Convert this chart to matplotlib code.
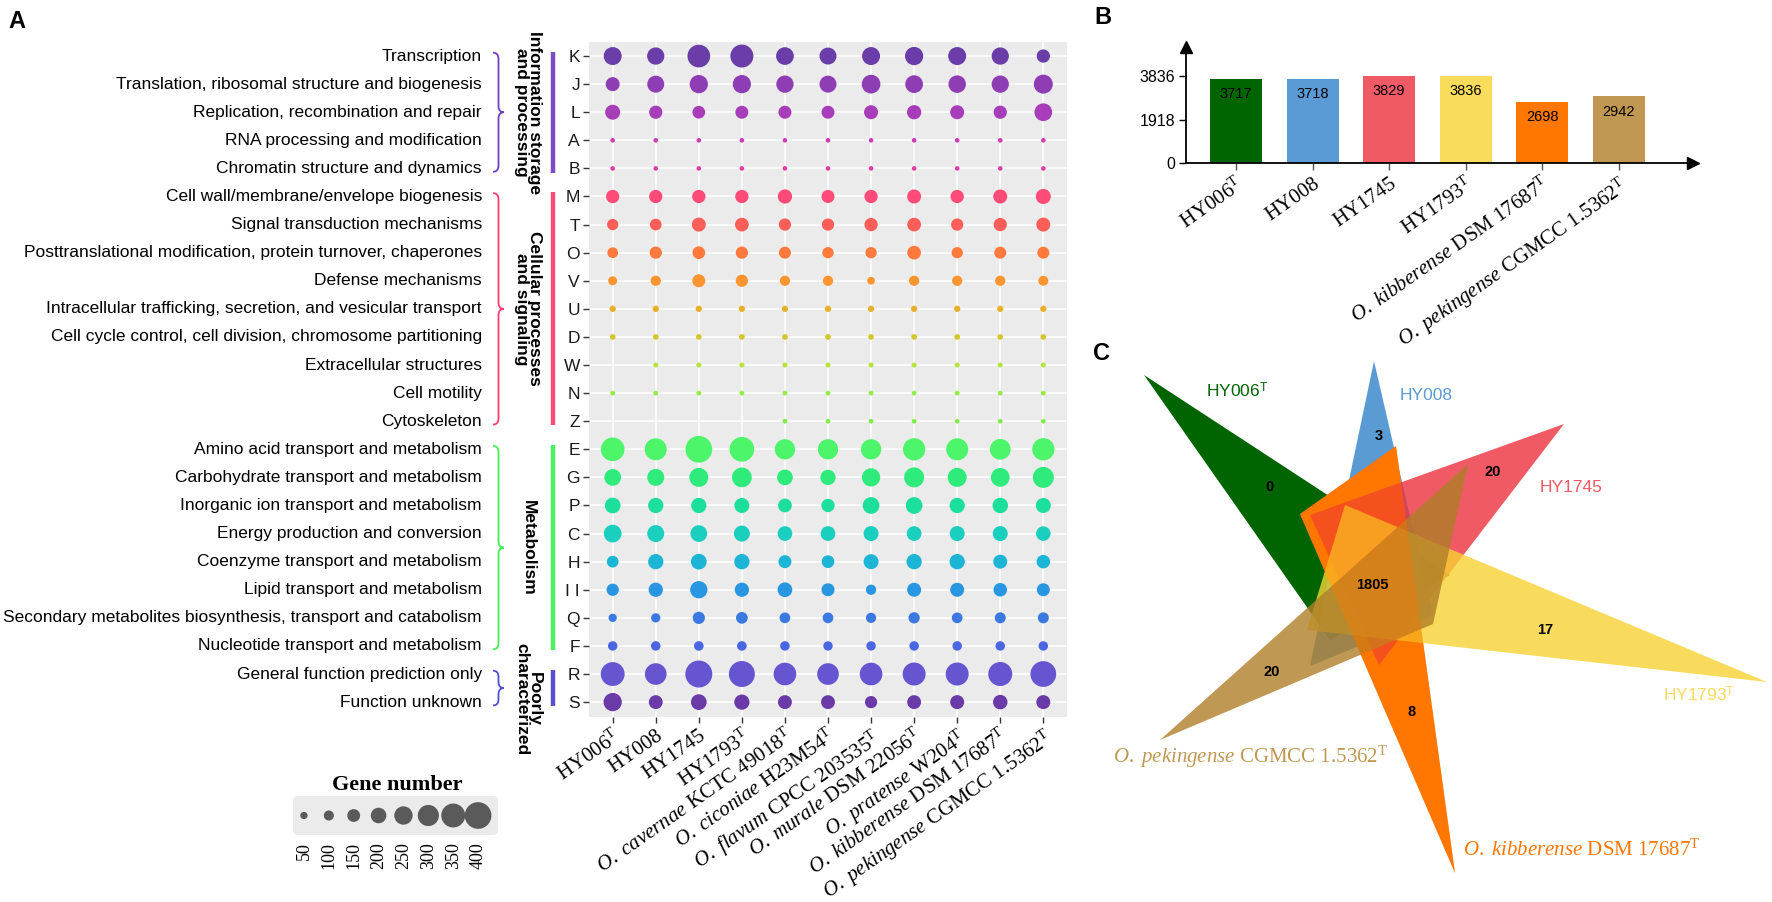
import numpy as np
import matplotlib
matplotlib.use("Agg")
import matplotlib.pyplot as plt
import matplotlib.transforms as mtransforms
from matplotlib.patches import Polygon, PathPatch, FancyBboxPatch
from matplotlib.path import Path

plt.rcParams['font.family'] = ['Liberation Sans', 'DejaVu Sans']
plt.rcParams['mathtext.fontset'] = 'custom'
plt.rcParams['mathtext.rm'] = 'Liberation Serif'
plt.rcParams['mathtext.it'] = 'Liberation Serif:italic'
plt.rcParams['mathtext.sf'] = 'Liberation Sans'

# ---------------- data ----------------
cog_codes = ['K', 'J', 'L', 'A', 'B', 'M', 'T', 'O', 'V', 'U', 'D', 'W', 'N', 'Z',
             'E', 'G', 'P', 'C', 'H', 'I', 'Q', 'F', 'R', 'S']
cog_ticks = [c if c != 'I' else 'I I' for c in cog_codes]
cog_names = ["Transcription",
             "Translation, ribosomal structure and biogenesis",
             "Replication, recombination and repair",
             "RNA processing and modification",
             "Chromatin structure and dynamics",
             "Cell wall/membrane/envelope biogenesis",
             "Signal transduction mechanisms",
             "Posttranslational modification, protein turnover, chaperones",
             "Defense mechanisms",
             "Intracellular trafficking, secretion, and vesicular transport",
             "Cell cycle control, cell division, chromosome partitioning",
             "Extracellular structures",
             "Cell motility",
             "Cytoskeleton",
             "Amino acid transport and metabolism",
             "Carbohydrate transport and metabolism",
             "Inorganic ion transport and metabolism",
             "Energy production and conversion",
             "Coenzyme transport and metabolism",
             "Lipid transport and metabolism",
             "Secondary metabolites biosynthesis, transport and catabolism",
             "Nucleotide transport and metabolism",
             "General function prediction only",
             "Function unknown"]
cog_colors = ['#6A3DA8', '#8E3DB4', '#A73DB8', '#D03BB8', '#E03AA6', '#FF4B78',
              '#FF5F58', '#FF7A3C', '#FF9530', '#E8B02A', '#D2C72C', '#B6E23C',
              '#92EE44', '#7DEE46', '#4DF56A', '#2EEB7C', '#1CDF9C', '#1BCFBF',
              '#1DB5D6', '#2996E1', '#3B79E0', '#4A66E2', '#6655D0', '#6A3AA8']

strain_labels = [r"HY006$^{\rm T}$", "HY008", "HY1745", r"HY1793$^{\rm T}$",
                 r"$\it{O.\ cavernae}$ KCTC 49018$^{\rm T}$",
                 r"$\it{O.\ ciconiae}$ H23M54$^{\rm T}$",
                 r"$\it{O.\ flavum}$ CPCC 203535$^{\rm T}$",
                 r"$\it{O.\ murale}$ DSM 22056$^{\rm T}$",
                 r"$\it{O.\ pratense}$ W204$^{\rm T}$",
                 r"$\it{O.\ kibberense}$ DSM 17687$^{\rm T}$",
                 r"$\it{O.\ pekingense}$ CGMCC 1.5362$^{\rm T}$"]

# gene number per COG category (rows) and strain (columns)
gene_counts = np.array([
    [243, 230, 328, 333, 238, 225, 243, 248, 243, 230, 158],  # K
    [171, 225, 248, 248, 230, 225, 256, 238, 234, 230, 261],  # J
    [189, 158, 148, 153, 153, 153, 171, 176, 171, 158, 238],  # L
    [2, 2, 2, 2, 2, 2, 2, 2, 2, 2, 2],                        # A
    [1, 1, 1, 1, 1, 1, 1, 1, 1, 1, 1],                        # B
    [158, 158, 158, 158, 176, 153, 158, 171, 158, 171, 189],  # M
    [122, 130, 171, 166, 140, 140, 158, 166, 140, 158, 171],  # T
    [112, 140, 148, 140, 135, 122, 122, 166, 122, 135, 135],  # O
    [81, 104, 153, 140, 104, 104, 58, 104, 104, 104, 99],     # V
    [33, 33, 32, 32, 31, 33, 32, 33, 32, 32, 32],             # U
    [22, 22, 21, 22, 22, 22, 21, 22, 22, 21, 22],             # D
    [0, 9, 9, 9, 9, 9, 9, 9, 9, 9, 9],                        # W
    [5, 5, 5, 5, 5, 5, 5, 5, 5, 5, 5],                        # N
    [0, 0, 0, 0, 3, 3, 3, 3, 3, 3, 3],                        # Z
    [345, 315, 400, 364, 284, 284, 284, 320, 315, 292, 320],  # E
    [220, 225, 261, 274, 202, 194, 248, 279, 261, 257, 297],  # G
    [202, 194, 194, 189, 166, 158, 220, 220, 194, 198, 189],  # P
    [238, 225, 220, 207, 184, 184, 189, 184, 189, 189, 180],  # C
    [130, 194, 202, 194, 153, 148, 189, 194, 194, 171, 162],  # H
    [140, 176, 230, 176, 184, 153, 104, 171, 171, 162, 153],  # I
    [68, 86, 140, 130, 112, 112, 104, 122, 112, 117, 117],    # Q
    [90, 90, 92, 92, 90, 88, 88, 90, 90, 90, 90],             # F
    [349, 309, 405, 387, 327, 309, 327, 333, 333, 351, 383],  # R
    [248, 169, 202, 193, 169, 169, 139, 169, 171, 180, 171],  # S
])

groups = [("Information storage\nand processing", 0, 4, '#7B4CC6', '#7040C0'),
          ("Cellular processes\nand signaling", 5, 13, '#FF4D7A', '#FF3D6E'),
          ("Metabolism", 14, 21, '#4CF064', '#44EE55'),
          ("Poorly\ncharacterized", 22, 23, '#5A50D2', '#5050D0')]

legend_values = [50, 100, 150, 200, 250, 300, 350, 400]

genome_labels = [r"HY006$^{\rm T}$", "HY008", "HY1745", r"HY1793$^{\rm T}$",
                 r"$\it{O.\ kibberense}$ DSM 17687$^{\rm T}$",
                 r"$\it{O.\ pekingense}$ CGMCC 1.5362$^{\rm T}$"]
genome_genes = [3717, 3718, 3829, 3836, 2698, 2942]
genome_colors = ['#006400', '#5B9BD5', '#F05A64', '#F9DC5C', '#FF7600', '#C09853']

venn_names = [r"HY006$^{\mathsf{T}}$", "HY008", "HY1745", r"HY1793$^{\mathsf{T}}$",
              r"$\it{O.\ kibberense}$ DSM 17687$^{\rm T}$",
              r"$\it{O.\ pekingense}$ CGMCC 1.5362$^{\rm T}$"]
venn_unique = [0, 3, 20, 17, 8, 20]
venn_core = 1805
venn_fill = ['#006400', '#3282CA', '#EC313D', '#F7D333', '#FF7600', '#B07E28']
venn_alpha = [1.0, 0.8, 0.8, 0.8, 1.0, 0.8]

# ---------------- layout ----------------
W, H = 1772, 902
fig = plt.figure(figsize=(W / 100, H / 100), dpi=100)


def box(x0, y0, x1, y1):
    return [x0 / W, 1 - y1 / H, (x1 - x0) / W, (y1 - y0) / H]


def dot_px(v):
    # dot diameter in pixels for a gene number
    return 4.5 + 0.0555 * np.asarray(v, dtype=float)


# ---------------- panel A: dot plot ----------------
ax = fig.add_axes(box(589, 42, 1067, 717))
ax.set_facecolor('#EBEBEB')
ax.set_xlim(-0.55, 10.55)
ax.set_ylim(23.53, -0.5)
ax.grid(color='white', lw=1.1)
ax.set_axisbelow(True)
for sp in ax.spines.values():
    sp.set_visible(False)

cols, rows = np.meshgrid(np.arange(len(strain_labels)), np.arange(len(cog_codes)))
mask = gene_counts > 0
ax.scatter(cols[mask], rows[mask], s=(dot_px(gene_counts[mask]) * 0.72) ** 2,
           c=np.array(cog_colors)[rows[mask]], linewidths=0, zorder=3)

ax.set_yticks(range(len(cog_codes)))
ax.set_yticklabels(cog_ticks, fontsize=12.5, color='#1a1a1a')
ax.set_xticks(range(len(strain_labels)))
ax.set_xticklabels(strain_labels, rotation=35, ha='right', rotation_mode='anchor',
                   fontsize=15, family='Liberation Serif')
ax.tick_params(axis='both', length=4.5, width=1, color='#333333', pad=2)

# overlay in pixel coordinates
ov = fig.add_axes([0, 0, 1, 1])
ov.set_xlim(0, W)
ov.set_ylim(H, 0)
ov.axis('off')
ov.set_facecolor('none')
rows_tr = mtransforms.blended_transform_factory(ov.transData, ax.transData)

for i, name in enumerate(cog_names):
    ov.text(482, i, name, transform=rows_tr, ha='right', va='center', fontsize=12.5)


def brace(x0, x1, ya, yb, color):
    ym = (ya + yb) / 2
    xm = (x0 + x1) / 2
    r = 0.22
    verts = [(x0, ya), (xm, ya), (xm, ya + r), (xm, ym - r), (xm, ym), (x1, ym),
             (xm, ym), (xm, ym + r), (xm, yb - r), (xm, yb), (x0, yb)]
    codes = [Path.MOVETO, Path.CURVE3, Path.CURVE3, Path.LINETO, Path.CURVE3, Path.CURVE3,
             Path.CURVE3, Path.CURVE3, Path.LINETO, Path.CURVE3, Path.CURVE3]
    ov.add_patch(PathPatch(Path(verts, codes), fc='none', ec=color, lw=1.3,
                           transform=rows_tr, clip_on=False))


for label, r0, r1, bar_col, brace_col in groups:
    brace(493, 504, r0 - 0.12, r1 + 0.12, brace_col)
    ov.plot([553, 553], [r0 - 0.15, r1 + 0.15], color=bar_col, lw=3.2,
            transform=rows_tr, solid_capstyle='butt', clip_on=False)
    yc = (r0 + r1) / 2 if r1 - r0 > 2 else r1 - 0.1
    ov.text(528, yc, label, transform=rows_tr, rotation=-90, ha='center', va='center',
            fontsize=12.5, fontweight='bold', linespacing=0.85, multialignment='center')

# size legend
ov.text(397, 785, "Gene number", ha='center', va='center', fontsize=16,
        fontweight='bold', family='Liberation Serif')
ov.add_patch(FancyBboxPatch((293, 796), 205, 39, boxstyle='round,pad=0,rounding_size=5',
                            fc='#EBEBEB', ec='none'))
lax = fig.add_axes(box(293, 796, 498, 835))
lax.patch.set_visible(False)
for sp in lax.spines.values():
    sp.set_visible(False)
lax.set_xlim(-0.44, 7.8)
lax.set_ylim(-1, 1)
lax.scatter(range(len(legend_values)), [0] * len(legend_values),
            s=(dot_px(legend_values) * 0.72) ** 2, color='#5A5A5A', linewidths=0)
lax.set_yticks([])
lax.set_xticks(range(len(legend_values)))
lax.set_xticklabels([str(v) for v in legend_values], rotation=90, fontsize=13,
                    family='Liberation Serif')
lax.tick_params(axis='x', length=0, pad=5)

# ---------------- panel B: gene numbers ----------------
bx = fig.add_axes(box(1186, 47, 1693, 163))
bx.set_xlim(-0.654, 5.97)
bx.set_ylim(0, 5115)
bx.bar(range(len(genome_genes)), genome_genes, width=0.68, color=genome_colors)
for i, v in enumerate(genome_genes):
    bx.annotate(str(v), (i, v), xytext=(0, -11), textcoords='offset points',
                ha='center', va='center', fontsize=10.5)
bx.spines['top'].set_visible(False)
bx.spines['right'].set_visible(False)
bx.spines['left'].set_linewidth(1.3)
bx.spines['bottom'].set_linewidth(1.3)
bx.plot(1, 0, '>', color='black', ms=9, transform=bx.transAxes, clip_on=False)
bx.plot(0, 1, '^', color='black', ms=9, transform=bx.transAxes, clip_on=False)
bx.set_yticks([0, 1918, 3836])
bx.set_yticklabels(['0', '1918', '3836'], fontsize=11.5)
bx.set_xticks(range(len(genome_genes)))
bx.set_xticklabels(genome_labels, rotation=35, ha='right', rotation_mode='anchor',
                   fontsize=15, family='Liberation Serif')
bx.tick_params(axis='both', length=5, width=1, pad=3)
bx.tick_params(axis='x', color='#555555')
bx.set_facecolor('none')

# ---------------- panel C: venn ----------------
venn_shapes = [
    [(1144, 375), (1450, 575), (1330, 640)],
    [(1374, 361), (1310, 666), (1433, 616)],
    [(1564, 424), (1310, 515), (1379, 665)],
    [(1767, 682), (1345, 505), (1307, 630)],
    [(1455, 873), (1300, 514), (1396, 446)],
    [(1160, 740), (1468, 464), (1433, 624)],
]
draw_order = [0, 1, 4, 2, 3, 5]
for k in draw_order:
    ov.add_patch(Polygon(venn_shapes[k], closed=True, fc=venn_fill[k],
                         alpha=venn_alpha[k], lw=0))
# light orange wash over the shared centre
ov.add_patch(Polygon(venn_shapes[4], closed=True, fc=venn_fill[4], alpha=0.35, lw=0))

unique_pos = [(1270, 487), (1379, 436), (1493, 472), (1545, 630), (1412, 712), (1272, 672)]
for (x, y), n in zip(unique_pos, venn_unique):
    ov.text(x, y, str(n), ha='center', va='center', fontsize=10.5, fontweight='bold')
ov.text(1372, 585, str(venn_core), ha='center', va='center', fontsize=10.5,
        fontweight='bold')

name_pos = [(1206, 391, 'left'), (1400, 396, 'left'), (1540, 487, 'left'),
            (1663, 695, 'left'), (1463, 850, 'left'), (1251, 757, 'center')]
for (x, y, ha), name, col in zip(name_pos, venn_names, genome_colors):
    fam = 'Liberation Serif' if 'it' in name else 'Liberation Sans'
    size = 15 if 'it' in name else 12.5
    ov.text(x, y, name, ha=ha, va='center', fontsize=size, color=col, family=fam)

# panel letters
for letter, (x, y) in zip("ABC", [(17, 22), (1103, 18), (1102, 353)]):
    ov.text(x, y, letter, ha='center', va='center', fontsize=17, fontweight='bold')

fig.savefig("out.png", dpi=100)
